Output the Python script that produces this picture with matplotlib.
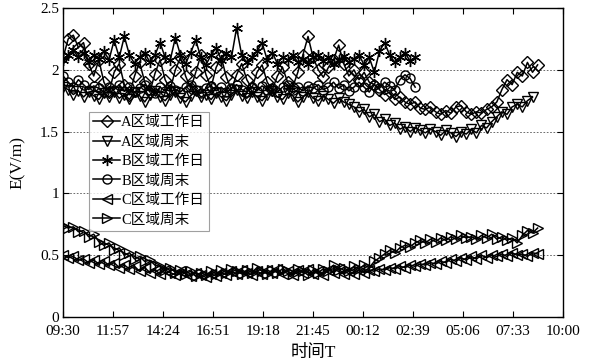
import numpy as np
import matplotlib
matplotlib.use("Agg")
import matplotlib.pyplot as plt

plt.rcParams['font.family'] = ['Liberation Serif', 'Noto Sans CJK SC']
plt.rcParams['axes.unicode_minus'] = False

# 采样间隔 (分钟), 起点 09:30
SAMPLE_MINUTES = 15

tick_labels = ['09:30', '11:57', '14:24', '16:51', '19:18', '21:45',
               '00:12', '02:39', '05:06', '07:33', '10:00']
series_names = ['A区域工作日', 'A区域周末', 'B区域工作日', 'B区域周末',
                'C区域工作日', 'C区域周末']

a_workday = [2.10, 2.25, 2.28, 2.18, 2.22, 2.05, 1.95, 2.08, 1.90, 1.82,
             1.98, 2.05, 1.88, 1.80, 1.95, 2.06, 1.90, 1.82, 1.97, 2.08,
             1.92, 1.84, 2.00, 2.10, 1.95, 1.85, 1.98, 2.12, 1.96, 1.86,
             2.02, 2.10, 1.94, 1.84, 1.96, 2.05, 1.92, 1.85, 1.98, 2.04,
             1.90, 1.84, 1.95, 2.02, 1.90, 1.86, 1.98, 2.12, 2.27, 2.10,
             2.00, 1.94, 2.02, 2.08, 2.20, 2.05, 1.95, 2.00, 1.92, 1.98,
             1.90, 1.88, 1.84, 1.80, 1.82, 1.76, 1.78, 1.74, 1.72, 1.74,
             1.69, 1.68, 1.70, 1.66, 1.64, 1.67, 1.65, 1.70, 1.71, 1.66,
             1.64, 1.66, 1.65, 1.68, 1.70, 1.74, 1.84, 1.92, 1.88, 1.98,
             1.95, 2.06, 1.98, 2.04]

a_weekend = [1.86, 1.84, 1.80, 1.83, 1.78, 1.82, 1.79, 1.76, 1.81, 1.78,
             1.82, 1.77, 1.80, 1.76, 1.82, 1.79, 1.74, 1.80, 1.83, 1.78,
             1.75, 1.80, 1.82, 1.77, 1.74, 1.79, 1.83, 1.78, 1.80, 1.76,
             1.81, 1.78, 1.75, 1.80, 1.84, 1.79, 1.77, 1.82, 1.78, 1.75,
             1.80, 1.83, 1.78, 1.76, 1.81, 1.79, 1.74, 1.78, 1.82, 1.77,
             1.75, 1.79, 1.76, 1.73, 1.77, 1.74, 1.72, 1.70, 1.66, 1.68,
             1.62, 1.64, 1.58, 1.60, 1.55, 1.57, 1.52, 1.54, 1.50, 1.53,
             1.51, 1.49, 1.52, 1.50, 1.47, 1.51, 1.49, 1.46, 1.50, 1.48,
             1.52, 1.49, 1.55, 1.53, 1.58, 1.62, 1.66, 1.64, 1.70, 1.72,
             1.70, 1.75, 1.78]

b_workday = [2.08, 2.12, 2.16, 2.10, 2.14, 2.06, 2.12, 2.09, 2.15, 2.08,
             2.24, 2.10, 2.27, 2.12, 2.05, 2.10, 2.14, 2.06, 2.12, 2.22,
             2.10, 2.08, 2.26, 2.12, 2.05, 2.14, 2.24, 2.10, 2.04, 2.12,
             2.18, 2.08, 2.14, 2.10, 2.34, 2.12, 2.06, 2.10, 2.15, 2.22,
             2.08, 2.14, 2.05, 2.10, 2.08, 2.12, 2.06, 2.09, 2.05, 2.10,
             2.12, 2.07, 2.10, 2.05, 2.08, 2.11, 2.06, 2.09, 2.12, 2.04,
             2.10, 1.98, 2.15, 2.22, 2.12, 2.06, 2.10, 2.14, 2.07, 2.10]

b_weekend = [1.95, 1.90, 1.86, 1.92, 1.88, 1.84, 1.87, 1.85, 1.82, 1.86,
             1.84, 1.88, 1.83, 1.86, 1.82, 1.85, 1.88, 1.84, 1.81, 1.86,
             1.83, 1.87, 1.84, 1.82, 1.86, 1.88, 1.84, 1.81, 1.85, 1.87,
             1.83, 1.86, 1.82, 1.85, 1.88, 1.84, 1.82, 1.86, 1.83, 1.87,
             1.84, 1.85, 1.82, 1.86, 1.88, 1.84, 1.86, 1.83, 1.87, 1.85,
             1.88, 1.84, 1.86, 1.90, 1.85, 1.88, 1.83, 1.86, 1.90, 1.86,
             1.82, 1.88, 1.85, 1.90, 1.87, 1.84, 1.92, 1.96, 1.93, 1.86]

c_workday = [0.50, 0.48, 0.49, 0.46, 0.47, 0.44, 0.46, 0.43, 0.45, 0.42,
             0.44, 0.40, 0.42, 0.39, 0.41, 0.37, 0.40, 0.36, 0.38, 0.35,
             0.38, 0.36, 0.34, 0.37, 0.35, 0.33, 0.36, 0.34, 0.32, 0.35,
             0.33, 0.36, 0.34, 0.37, 0.35, 0.38, 0.36, 0.34, 0.37, 0.35,
             0.38, 0.36, 0.39, 0.35, 0.37, 0.34, 0.38, 0.36, 0.39, 0.35,
             0.37, 0.34, 0.38, 0.36, 0.39, 0.35, 0.37, 0.35, 0.38, 0.36,
             0.38, 0.37, 0.39, 0.38, 0.40, 0.39, 0.41, 0.40, 0.42, 0.41,
             0.43, 0.42, 0.44, 0.43, 0.45, 0.44, 0.47, 0.45, 0.48, 0.46,
             0.49, 0.47, 0.50, 0.48, 0.50, 0.49, 0.51, 0.49, 0.52, 0.50,
             0.51, 0.49, 0.52, 0.51]

c_weekend = [0.74, 0.72, 0.73, 0.69, 0.70, 0.65, 0.67, 0.61, 0.58, 0.60,
             0.54, 0.56, 0.50, 0.52, 0.47, 0.49, 0.45, 0.46, 0.42, 0.41,
             0.38, 0.40, 0.36, 0.38, 0.35, 0.37, 0.33, 0.36, 0.34, 0.37,
             0.35, 0.38, 0.36, 0.39, 0.37, 0.35, 0.38, 0.36, 0.40, 0.37,
             0.35, 0.38, 0.36, 0.39, 0.37, 0.35, 0.39, 0.37, 0.34, 0.38,
             0.36, 0.39, 0.37, 0.42, 0.38, 0.40, 0.37, 0.41, 0.39, 0.42,
             0.40, 0.45, 0.48, 0.51, 0.54, 0.52, 0.56, 0.58, 0.57, 0.60,
             0.62, 0.60, 0.63, 0.61, 0.64, 0.62, 0.65, 0.63, 0.66, 0.64,
             0.65, 0.63, 0.66, 0.64, 0.67, 0.63, 0.65, 0.62, 0.64, 0.60,
             0.66, 0.70, 0.68, 0.72]


def plot_chart():
    fig = plt.figure(figsize=(6.01, 3.64), dpi=100)
    ax = fig.add_axes([0.105, 0.129, 0.832, 0.849])

    # 星号用六臂星形 (asterisk)
    styles = [('D', 6), ('v', 7.5), ((6, 2, 0), 8), ('o', 6.5), ('<', 7.5), ('>', 7.5)]
    data = [a_workday, a_weekend, b_workday, b_weekend, c_workday, c_weekend]
    for name, vals, (mk, ms) in zip(series_names, data, styles):
        t = np.arange(len(vals)) * SAMPLE_MINUTES
        ax.plot(t, vals, color='black', lw=1.1, marker=mk, ms=ms,
                mfc='none', mec='black', mew=1.0, label=name)

    ax.set_xlim(0, 1470)
    ax.set_ylim(0, 2.5)
    ax.set_xticks(np.arange(len(tick_labels)) * 147)
    ax.set_xticklabels(tick_labels)
    ax.set_yticks([0, 0.5, 1, 1.5, 2, 2.5])
    ax.set_yticklabels(['0', '0.5', '1', '1.5', '2', '2.5'])
    ax.tick_params(direction='in', top=True, right=True, labelsize=11,
                   length=4, width=0.8)
    ax.tick_params(axis='x', pad=6)
    ax.tick_params(axis='y', pad=3)
    ax.yaxis.grid(True, linestyle=(0, (2, 2)), color='#555555', lw=0.6)
    for s in ax.spines.values():
        s.set_linewidth(1.0)

    ax.set_xlabel('时间T', fontsize=12.5, labelpad=5)
    ax.set_ylabel('E(V/m)', fontsize=12.5, labelpad=10)

    leg = ax.legend(loc='upper left', bbox_to_anchor=(0.052, 0.665),
                    fontsize=10.5, frameon=True, fancybox=False,
                    handlelength=1.8, handletextpad=0.1, labelspacing=0.42,
                    borderpad=0.3, borderaxespad=0)
    leg.get_frame().set_edgecolor('#888888')
    leg.get_frame().set_linewidth(0.8)

    fig.savefig('out.png', dpi=100)
    plt.close(fig)


if __name__ == '__main__':
    plot_chart()
